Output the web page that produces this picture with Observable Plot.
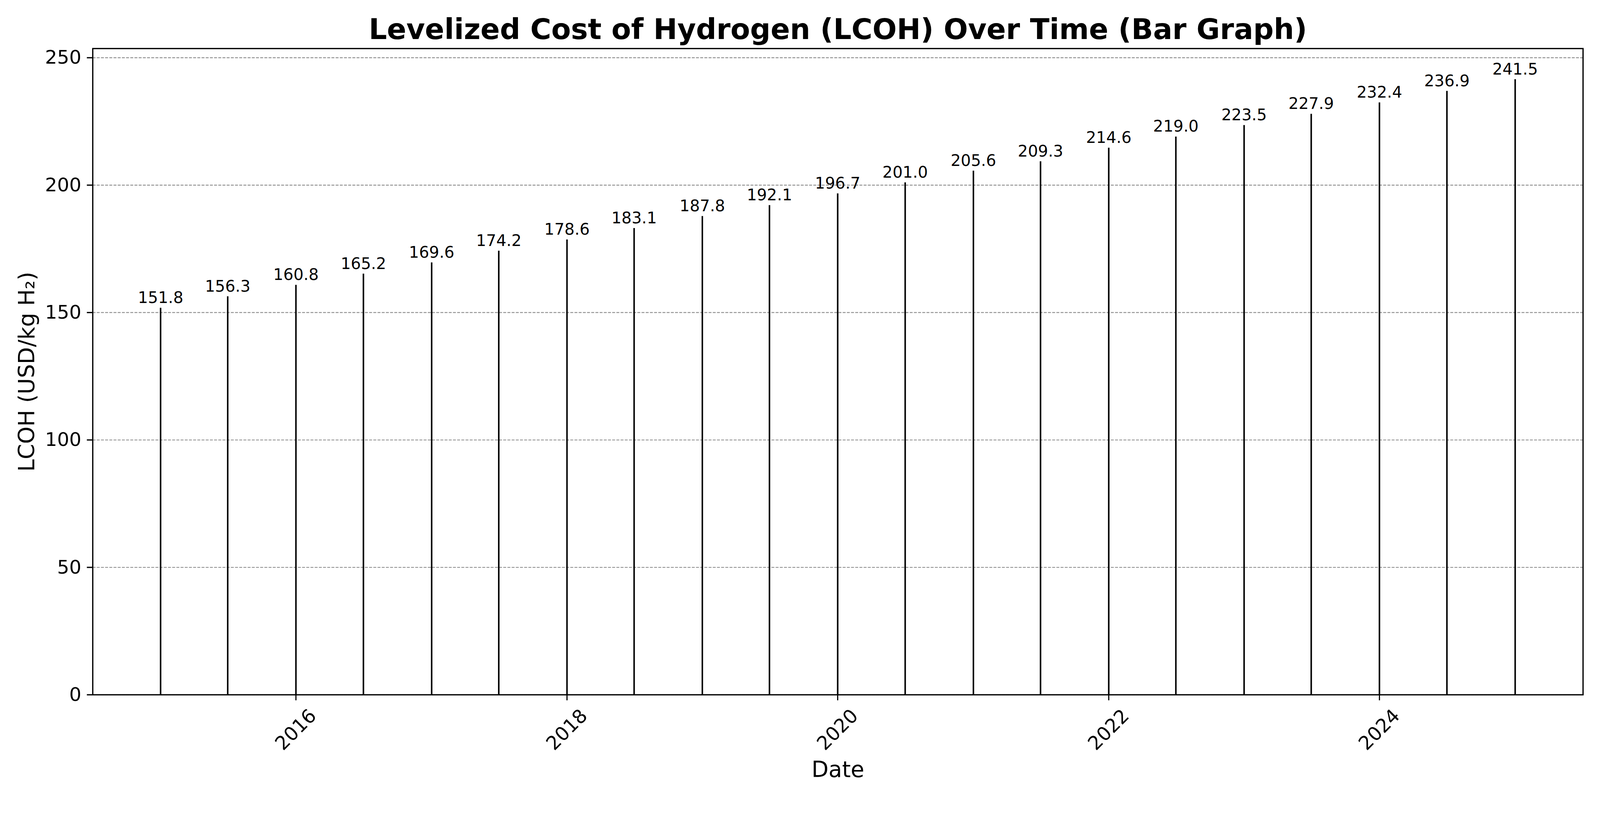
<!DOCTYPE html>
<html>
<head>
<meta charset="utf-8">
<script src="https://cdn.jsdelivr.net/npm/d3@7"></script>
<script src="https://cdn.jsdelivr.net/npm/@observablehq/plot@0.6"></script>
<style>
  body { margin: 0; background: white; }
  #chart svg { overflow: visible; }
</style>
</head>
<body>
<div id="chart"></div>
<script>
/* Datos: un valor cada 6 meses */
const dates = [
  "2015-01-01", "2015-07-01", "2016-01-01", "2016-07-01", "2017-01-01", "2017-07-01",
  "2018-01-01", "2018-07-01", "2019-01-01", "2019-07-01", "2020-01-01", "2020-07-01",
  "2021-01-01", "2021-07-01", "2022-01-01", "2022-07-01", "2023-01-01", "2023-07-01",
  "2024-01-01", "2024-07-01", "2025-01-01"
];
const lcoh = [
  151.8, 156.3, 160.8, 165.2, 169.6, 174.2,
  178.6, 183.1, 187.8, 192.1, 196.7, 201.0,
  205.6, 209.3, 214.6, 219.0, 223.5, 227.9,
  232.4, 236.9, 241.5
];
const yTicks = [0, 50, 100, 150, 200, 250];
const xTickYears = ["2016-01-01", "2018-01-01", "2020-01-01", "2022-01-01", "2024-01-01"];

const titleText = "Levelized Cost of Hydrogen (LCOH) Over Time (Bar Graph)";

const data = dates.map((d, i) => ({date: new Date(d), value: lcoh[i]}));
const xTicks = xTickYears.map(d => new Date(d));

const chart = Plot.plot({
  width: 4200,
  height: 2100,
  marginTop: 127,
  marginRight: 45,
  marginBottom: 276,
  marginLeft: 243,
  style: {fontFamily: "DejaVu Sans", background: "white", color: "black"},
  x: {
    type: "utc",
    // margen 5% como matplotlib
    domain: [new Date("2014-07-02T02:00Z"), new Date("2025-07-03T02:00Z")]
  },
  y: {domain: [0, 253.6]},
  marks: [
    Plot.gridY(yTicks, {stroke: "#8c8c8c", strokeOpacity: 1, strokeWidth: 2.2, strokeDasharray: "7.7,3.3"}),
    Plot.ruleX(data, {x: "date", y1: 0, y2: "value", stroke: "black", strokeWidth: 4}),
    Plot.text(data, {
      x: "date", y: "value",
      text: d => d.value.toFixed(1),
      lineAnchor: "bottom", dy: -13,
      fontSize: 41.7, fill: "black"
    }),
    Plot.frame({stroke: "black", strokeWidth: 3.3}),
    Plot.axisY(yTicks, {
      tickSize: 15, tickPadding: 15, strokeWidth: 3.3,
      fontSize: 50, fill: "black", label: null
    }),
    Plot.axisY([], {
      tickSize: 0, fontSize: 58, fill: "black",
      label: "LCOH (USD/kg H₂)", labelAnchor: "center", labelArrow: "none", labelOffset: 194
    }),
    Plot.axisX(xTicks, {
      tickSize: 15, tickPadding: 77, strokeWidth: 3,
      tickRotate: -45, textAnchor: "middle", lineAnchor: "middle",
      tickFormat: d3.utcFormat("%Y"),
      fontSize: 50, fill: "black", label: null
    }),
    Plot.axisX([], {
      tickSize: 0, fontSize: 58, fill: "black",
      label: "Date", labelAnchor: "center", labelArrow: "none", labelOffset: 216
    }),
    Plot.text([titleText], {
      frameAnchor: "top", lineAnchor: "bottom", dy: -25,
      fontSize: 75, fontWeight: "bold", fill: "black"
    })
  ]
});

d3.select("#chart").append(() => chart);
</script>
</body>
</html>
